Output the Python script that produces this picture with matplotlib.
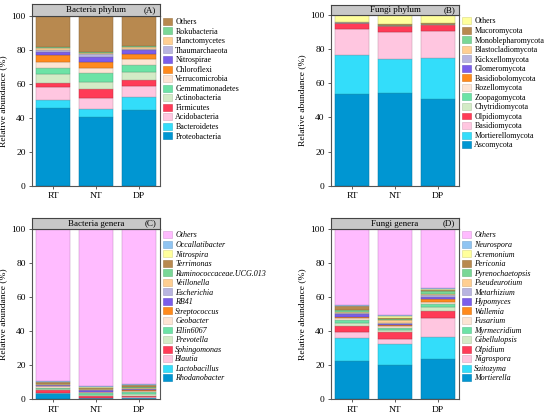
import matplotlib
matplotlib.use("Agg")
import matplotlib.pyplot as plt
from matplotlib.patches import Patch
import matplotlib.colors as mcolors
import numpy as np

plt.rcParams['font.family'] = ['Liberation Serif', 'DejaVu Serif']

samples = ["RT", "NT", "DP"]

# ---------- Panel A: Bacteria phylum ----------
bac_phyla = ["Proteobacteria", "Bacteroidetes", "Acidobacteria", "Firmicutes",
             "Actinobacteria", "Gemmatimonadetes", "Verrucomicrobia", "Chloroflexi",
             "Nitrospirae", "Thaumarchaeota", "Planctomycetes", "Rokubacteria", "Others"]
bac_phyla_RT = [45.6, 4.8, 7.8, 2.1, 5.3, 3.5, 3.9, 3.6, 2.3, 1.0, 1.0, 0.8, 18.3]
bac_phyla_NT = [40.6, 4.5, 6.7, 5.1, 4.3, 4.9, 3.3, 3.5, 3.0, 1.4, 0.6, 0.7, 21.4]
bac_phyla_DP = [44.3, 7.7, 6.6, 3.6, 4.7, 4.1, 3.3, 3.0, 2.5, 0.8, 0.8, 0.8, 17.8]

# ---------- Panel B: Fungi phylum ----------
fun_phyla = ["Ascomycota", "Mortierellomycota", "Basidiomycota", "Olpidiomycota",
             "Chytridiomycota", "Zoopagomycota", "Rozellomycota", "Basidiobolomycota",
             "Glomeromycota", "Kickxellomycota", "Blastocladiomycota", "Monoblepharomycota",
             "Mucoromycota", "Others"]
fun_phyla_RT = [53.7, 22.7, 15.3, 3.4, 0.2, 0.1, 0.1, 0.05, 0.05, 0.05, 0.05, 0.05, 0.2, 4.0]
fun_phyla_NT = [54.4, 19.8, 15.9, 3.2, 0.4, 0.2, 0.1, 0.05, 0.05, 0.05, 0.05, 0.05, 0.6, 5.2]
fun_phyla_DP = [50.8, 24.0, 16.1, 3.3, 0.3, 0.1, 0.1, 0.05, 0.05, 0.05, 0.05, 0.05, 0.5, 4.6]

# ---------- Panel C: Bacteria genera ----------
bac_gen = ["Rhodanobacter", "Lactobacillus", "Blautia", "Sphingomonas", "Prevotella",
           "Ellin6067", "Geobacter", "Streptococcus", "RB41", "Escherichia", "Veillonella",
           "Ruminococcaceae.UCG.013", "Terrimonas", "Nitrospira", "Occallatibacter", "Others"]
bac_gen_RT = [3.4, 0.2, 0.3, 1.3, 0.6, 1.1, 0.7, 0.3, 0.4, 0.3, 0.2, 0.4, 0.9, 0.3, 0.5, 89.1]
bac_gen_NT = [0.5, 0.2, 0.3, 1.0, 0.6, 0.9, 0.6, 0.3, 1.0, 0.3, 0.3, 0.3, 0.4, 0.6, 0.3, 92.4]
bac_gen_DP = [0.6, 0.2, 0.3, 1.0, 0.9, 1.2, 0.7, 0.5, 0.6, 0.3, 0.4, 0.4, 1.1, 0.3, 0.3, 91.2]

# ---------- Panel D: Fungi genera ----------
fun_gen = ["Mortierella", "Saitozyma", "Nigrospora", "Olpidium", "Gibellulopsis",
           "Myrmecridium", "Fusarium", "Wallemia", "Hypomyces", "Metarhizium",
           "Pseudeurotium", "Pyrenochaetopsis", "Periconia", "Acremonium", "Neurospora", "Others"]
fun_gen_RT = [22.5, 13.5, 3.5, 3.5, 1.8, 2.0, 0.9, 0.6, 2.0, 0.6, 0.6, 1.1, 2.0, 0.4, 0.4, 44.6]
fun_gen_NT = [20.0, 12.7, 2.9, 3.9, 1.4, 1.2, 1.0, 0.5, 0.8, 0.6, 1.4, 0.8, 0.8, 1.1, 0.6, 50.3]
fun_gen_DP = [23.9, 12.7, 11.4, 3.7, 2.5, 2.0, 0.9, 1.8, 1.2, 1.0, 0.9, 1.4, 1.0, 0.6, 0.4, 34.6]

palette = ["#0096D2", "#33DDFA", "#FFC6E0", "#FF3B57", "#D3EBC6", "#6CE3A6",
           "#FDE4D3", "#FF8A1C", "#7B5DEB", "#B8B4E0", "#FFCF92", "#79D796",
           "#B8894F", "#FFFF9C", "#8FC4F2", "#FFBBFF"]

W, H = 550, 417
fig = plt.figure(figsize=(W / 100, H / 100), dpi=100)


def darken(c, f=0.75):
    r, g, b = mcolors.to_rgb(c)
    return (r * f, g * f, b * f)


def panel(x0, x1, ytop, ybot, strip_top, title, tag, names, data, colors, italic):
    ax = fig.add_axes([x0 / W, 1 - ybot / H, (x1 - x0) / W, (ybot - ytop) / H])
    xs = np.arange(len(samples))
    bottoms = np.zeros(len(samples))
    vals = np.array(data)
    for i, name in enumerate(names):
        v = vals[:, i]
        ax.bar(xs, v, 0.8, bottom=bottoms, color=colors[i],
               edgecolor=darken(colors[i]), linewidth=0.35)
        bottoms += v
    ax.set_xlim(-0.5, 2.5)
    ax.set_ylim(0, 100)
    ax.set_yticks([0, 20, 40, 60, 80, 100])
    ax.set_xticks(xs)
    ax.set_xticklabels(samples)
    ax.tick_params(axis='both', labelsize=6.8, length=2.5, width=0.6, pad=2,
                   color='#444444')
    for s in ax.spines.values():
        s.set_color('#555555')
        s.set_linewidth(0.8)
    ax.set_ylabel("Relative abundance (%)", fontsize=6.8, labelpad=3)
    # strip
    sax = fig.add_axes([x0 / W, 1 - ytop / H, (x1 - x0) / W, (ytop - strip_top) / H])
    sax.set_facecolor('#C8C8C8')
    sax.set_xticks([])
    sax.set_yticks([])
    for s in sax.spines.values():
        s.set_color('#444444')
        s.set_linewidth(0.8)
    sax.text(0.5, 0.5, title, ha='center', va='center', fontsize=6.5,
             transform=sax.transAxes)
    sax.text(0.97, 0.5, tag, ha='right', va='center', fontsize=6.5,
             transform=sax.transAxes)
    # legend
    handles = [Patch(facecolor=colors[i], edgecolor=darken(colors[i], 0.85),
                     linewidth=0.4, label=names[i]) for i in range(len(names))][::-1]
    leg = ax.legend(handles=handles, loc='upper left',
                    bbox_to_anchor=(1.0, 1.006),
                    frameon=False, fontsize=5.8, handlelength=1.05, handleheight=0.95,
                    handletextpad=0.45, labelspacing=0.16, borderaxespad=0.2,
                    borderpad=0.2)
    if italic:
        for t in leg.get_texts():
            t.set_fontstyle('italic')
    return ax


panel(32, 160, 15.7, 185.7, 4.0, "Bacteria phylum", "(A)", bac_phyla,
      [bac_phyla_RT, bac_phyla_NT, bac_phyla_DP], palette[:12] + ["#B8894F"], False)
panel(331, 459, 15.0, 185.7, 4.7, "Fungi phylum", "(B)", fun_phyla,
      [fun_phyla_RT, fun_phyla_NT, fun_phyla_DP], palette[:14], False)
panel(32, 160, 229, 399.3, 218, "Bacteria genera", "(C)", bac_gen,
      [bac_gen_RT, bac_gen_NT, bac_gen_DP], palette, True)
panel(331, 459, 229, 399.3, 218, "Fungi genera", "(D)", fun_gen,
      [fun_gen_RT, fun_gen_NT, fun_gen_DP], palette, True)

fig.savefig("out.png", dpi=100)
